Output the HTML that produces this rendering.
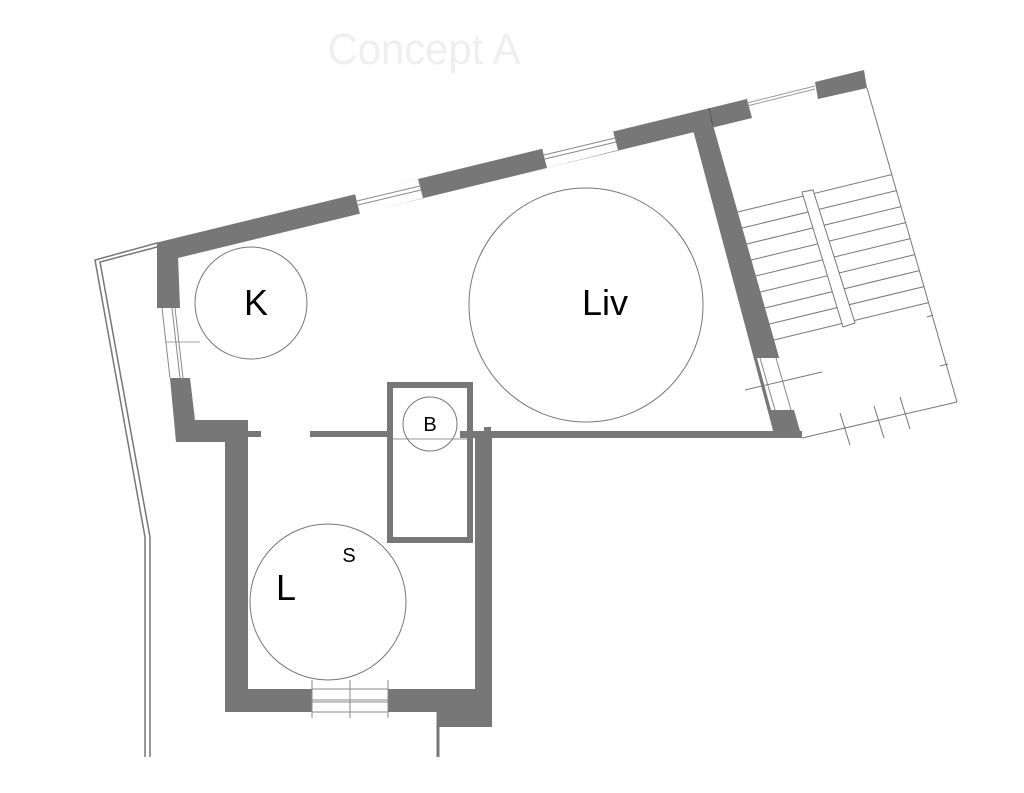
<!DOCTYPE html>
<html><head><meta charset="utf-8"><style>
html,body{margin:0;padding:0;background:#fff;}
svg{display:block;}
</style></head><body>
<svg width="1024" height="793" viewBox="0 0 1024 793" xmlns="http://www.w3.org/2000/svg" font-family="Liberation Sans, sans-serif">
<text x="424" y="64" font-size="44" fill="#efefef" text-anchor="middle" transform="translate(424 0) scale(0.95 1) translate(-424 0)">Concept A</text>

<!-- outer thin boundary left -->
<polyline points="157,243 95,260 145,537 145,757" fill="none" stroke="#777" stroke-width="1.5"/>
<polyline points="157,247 100,262 150,537 150,757" fill="none" stroke="#777" stroke-width="1.5"/>

<!-- top wall -->
<polygon points="155,243 747,99 752,118 178,258" fill="#777"/>
<polygon points="355,194 418,179 423,198 360,214" fill="#fff"/>
<line x1="357" y1="201" x2="420" y2="186" stroke="#888" stroke-width="1"/>
<line x1="358" y1="205" x2="421" y2="190" stroke="#888" stroke-width="1"/>
<polygon points="542,148 613,131 618,150 547,168" fill="#fff"/>
<line x1="544" y1="155" x2="615" y2="138" stroke="#888" stroke-width="1"/>
<line x1="545" y1="159" x2="616" y2="142" stroke="#888" stroke-width="1"/>
<line x1="709" y1="108" x2="713" y2="127" stroke="#555" stroke-width="1"/>
<line x1="747" y1="103" x2="815" y2="86" stroke="#999" stroke-width="1"/>
<line x1="747" y1="106" x2="815" y2="89" stroke="#999" stroke-width="1"/>
<polygon points="815,82 864,70 867,88 818,99" fill="#777"/>

<!-- right wall of living -->
<polygon points="693,130 713,125 802,438 775,438" fill="#777"/>
<polygon points="757,358 780,358 795,410 771,410" fill="#fff"/>
<line x1="760" y1="358" x2="775" y2="410" stroke="#888" stroke-width="1"/>
<line x1="776" y1="358" x2="791" y2="410" stroke="#888" stroke-width="1"/>

<!-- living bottom wall -->
<rect x="460" y="431" width="342" height="7" fill="#777"/>
<rect x="310" y="431" width="82" height="6" fill="#777"/>
<rect x="245" y="431" width="16" height="6" fill="#777"/>
<rect x="484" y="427" width="7" height="5" fill="#777"/>

<!-- kitchen left wall -->
<polygon points="157,243 178,243 178,308 157,308" fill="#777"/>
<polygon points="160,243 178,255 180,308 160,308" fill="#777"/>
<rect x="162" y="308" width="20" height="70" fill="#fff"/>
<line x1="162" y1="308" x2="170" y2="378" stroke="#888" stroke-width="1"/>
<line x1="172" y1="308" x2="180" y2="378" stroke="#888" stroke-width="1"/>
<line x1="175" y1="308" x2="183" y2="378" stroke="#888" stroke-width="1"/>
<line x1="165" y1="342" x2="200" y2="342" stroke="#888" stroke-width="0.8"/>
<polygon points="170,378 190,378 195,420 248,420 248,442 176,442" fill="#777"/>
<rect x="225" y="420" width="23" height="292" fill="#777"/>
<rect x="225" y="689" width="87" height="23" fill="#777"/>
<rect x="388" y="689" width="104" height="23" fill="#777"/>
<rect x="437" y="689" width="55" height="38" fill="#777"/>
<line x1="438" y1="712" x2="438" y2="757" stroke="#777" stroke-width="3"/>
<line x1="312" y1="689" x2="388" y2="689" stroke="#888"/>
<line x1="312" y1="700" x2="388" y2="700" stroke="#888"/>
<line x1="312" y1="702" x2="388" y2="702" stroke="#888"/>
<line x1="312" y1="712" x2="388" y2="712" stroke="#888"/>
<line x1="312" y1="680" x2="312" y2="718" stroke="#888"/>
<line x1="350" y1="680" x2="350" y2="718" stroke="#888"/>
<line x1="388" y1="680" x2="388" y2="718" stroke="#888"/>
<rect x="475" y="432" width="17" height="295" fill="#777"/>

<!-- B box -->
<rect x="390" y="385" width="80" height="155" fill="none" stroke="#777" stroke-width="6"/>
<line x1="393" y1="439" x2="467" y2="439" stroke="#999" stroke-width="1"/>

<!-- stairs -->
<line x1="867" y1="88" x2="957" y2="402" stroke="#777" stroke-width="1"/>
<line x1="957" y1="402" x2="802" y2="438" stroke="#777" stroke-width="1"/>
<g stroke="#777" stroke-width="1">
<line x1="737.7" y1="212" x2="891.8" y2="174.6"/>
<line x1="742.2" y1="228" x2="896.4" y2="190.6"/>
<line x1="746.8" y1="244" x2="901" y2="206.6"/>
<line x1="751.3" y1="260" x2="905.6" y2="222.6"/>
<line x1="755.9" y1="276" x2="910.2" y2="238.6"/>
<line x1="760.4" y1="292" x2="914.8" y2="254.6"/>
<line x1="765" y1="308" x2="919.3" y2="270.6"/>
<line x1="769.5" y1="324" x2="923.9" y2="286.6"/>
<line x1="774" y1="340" x2="928.5" y2="302.6"/>
<line x1="745" y1="390" x2="822" y2="372"/>
<line x1="840" y1="413" x2="850" y2="445"/>
<line x1="874" y1="406" x2="884" y2="438"/>
<line x1="900" y1="397" x2="910" y2="429"/>
<line x1="927" y1="317" x2="933" y2="315"/>
<line x1="940" y1="366" x2="948" y2="364"/>
</g>
<polygon points="802,192 813,190 855,323 843,327" fill="#fff" stroke="#777" stroke-width="1"/>

<!-- circles -->
<g fill="none" stroke="#777" stroke-width="1">
<circle cx="251" cy="303" r="56"/>
<circle cx="586" cy="305" r="117"/>
<circle cx="328" cy="602" r="78"/>
<circle cx="430" cy="424" r="27"/>
</g>
<g fill="#000">
<text x="256" y="315" font-size="36" text-anchor="middle">K</text>
<text x="605" y="315" font-size="36" text-anchor="middle">Liv</text>
<text x="286" y="600" font-size="36" text-anchor="middle">L</text>
<text x="349" y="562" font-size="20" text-anchor="middle">S</text>
<text x="430" y="431" font-size="20" text-anchor="middle">B</text>
</g>
</svg>
</body></html>
